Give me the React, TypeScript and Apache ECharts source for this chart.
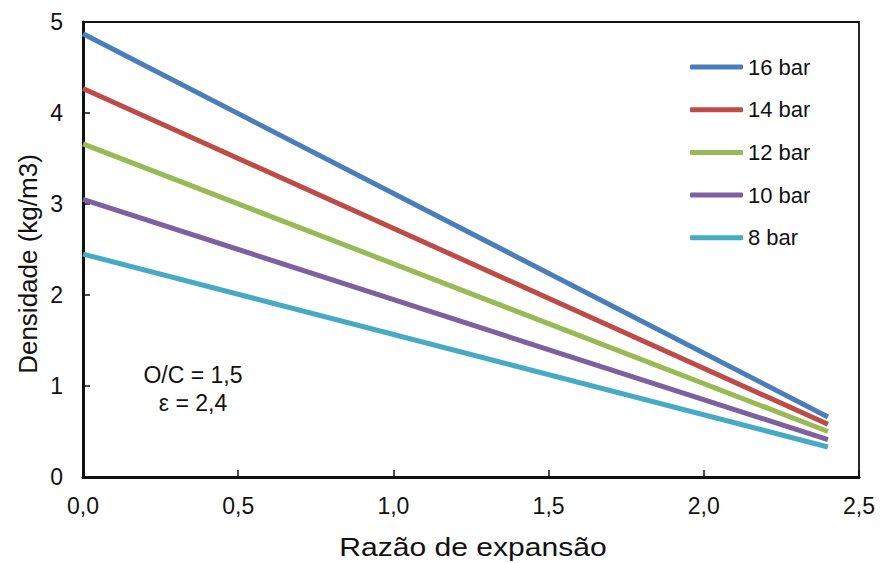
import React, { useEffect, useRef } from "react";
import * as echarts from "echarts";

const xValues = [0, 2.4];
const seriesNames = ["16 bar", "14 bar", "12 bar", "10 bar", "8 bar"];
const bar16 = [4.87, 0.66];
const bar14 = [4.27, 0.58];
const bar12 = [3.66, 0.5];
const bar10 = [3.05, 0.41];
const bar8 = [2.45, 0.33];
const colors = ["#4A7EBB", "#BE4B48", "#98B954", "#7D60A0", "#46AAC5"];
const xTitle = "Razão de expansão";
const yTitle = "Densidade (kg/m3)";
const annotation = ["O/C = 1,5", "ε = 2,4"];

const FONT = "Liberation Sans, Arial, sans-serif";

export default function App() {
  const ref = useRef<HTMLDivElement>(null);
  useEffect(() => {
    if (!ref.current) return;
    const chart = echarts.init(ref.current, undefined, { renderer: "svg" });
    const all = [bar16, bar14, bar12, bar10, bar8];
    const series = all.map((vals, i) => ({
      name: seriesNames[i],
      type: "line",
      data: xValues.map((x, j) => [x, vals[j]]),
      showSymbol: false,
      symbol: "none",
      lineStyle: { color: colors[i], width: 5 },
      itemStyle: { color: colors[i] },
      z: 10 - i,
    }));
    const txt = (text: string, x: number, y: number, size: number, extra: any = {}) => ({
      type: "text",
      x,
      y,
      ...extra,
      style: {
        text,
        fontFamily: FONT,
        fontSize: size,
        fill: "#111",
        align: "center",
        verticalAlign: "middle",
      },
    });
    chart.setOption({
      animation: false,
      backgroundColor: "#fff",
      textStyle: { fontFamily: FONT, color: "#111" },
      grid: {
        left: 83,
        right: 23,
        top: 22,
        bottom: 86,
        show: true,
        borderColor: "#111",
        borderWidth: 1.8,
        containLabel: false,
      },
      legend: {
        orient: "vertical",
        left: 690,
        top: 56,
        padding: 0,
        icon: "roundRect",
        itemWidth: 53,
        itemHeight: 5,
        itemGap: 20.7,
        data: seriesNames,
        textStyle: { fontFamily: FONT, fontSize: 22, color: "#111", lineHeight: 22, padding: [0, 0, 0, 0] },
      },
      xAxis: {
        type: "value",
        min: 0,
        max: 2.5,
        interval: 0.5,
        axisLine: { show: true, onZero: false, lineStyle: { color: "#111", width: 3 } },
        axisTick: { show: true, inside: true, length: 7, lineStyle: { color: "#111", width: 1.5 } },
        axisLabel: {
          fontFamily: FONT,
          fontSize: 23,
          color: "#111",
          margin: 17,
          formatter: (v: number) => v.toFixed(1).replace(".", ","),
        },
        splitLine: { show: false },
      },
      yAxis: {
        type: "value",
        min: 0,
        max: 5,
        interval: 1,
        axisLine: { show: true, onZero: false, lineStyle: { color: "#111", width: 3 } },
        axisTick: { show: true, inside: true, length: 7, lineStyle: { color: "#111", width: 1.5 } },
        axisLabel: { fontFamily: FONT, fontSize: 23, color: "#111", margin: 20 },
        splitLine: { show: false },
      },
      graphic: [
        txt(xTitle, 473, 547, 25.5, { scaleX: 1.18 }),
        txt(yTitle, 28, 264, 26, { rotation: Math.PI / 2 }),
        txt(annotation[0], 193, 375, 23),
        txt(annotation[1], 193, 403, 23),
      ],
      series,
    });
    return () => chart.dispose();
  }, []);
  return (
    <div
      ref={ref}
      style={{ position: "fixed", left: 0, top: 0, width: 882, height: 563 }}
    />
  );
}
